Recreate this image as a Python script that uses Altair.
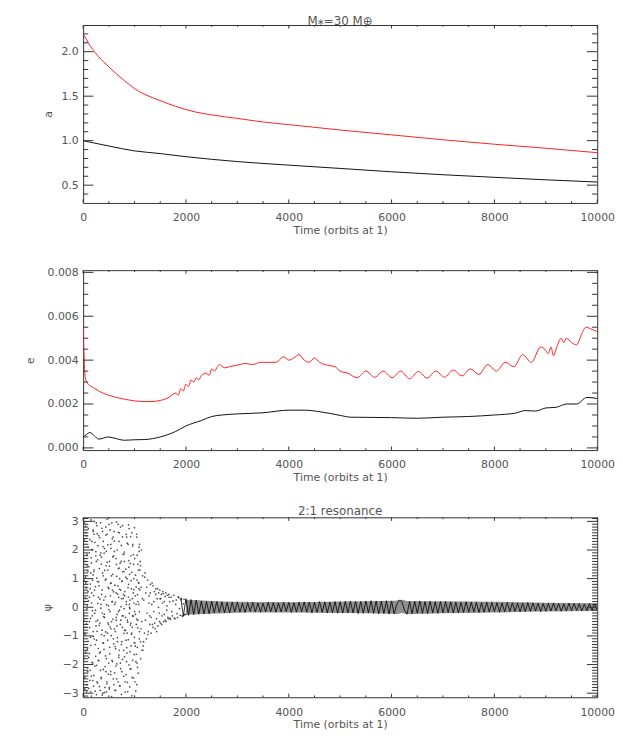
import altair as alt
import pandas as pd

# ---------------- data ----------------
# panel 1: semi-major axis a
a_red_t = [0, 50, 100, 150, 200, 300, 400, 500, 600, 700, 800, 900, 1000, 1200, 1500, 1800,
           2000, 2200, 2500, 3000, 3500, 4000, 5000, 6000, 7000, 8000, 9000, 10000]
a_red = [2.20, 2.15, 2.10, 2.055, 2.015, 1.945, 1.885, 1.83, 1.775, 1.725, 1.675, 1.63, 1.585,
         1.52, 1.45, 1.385, 1.35, 1.32, 1.29, 1.25, 1.21, 1.18, 1.12, 1.065, 1.01, 0.96, 0.915, 0.865]
a_blk_t = [0, 200, 500, 1000, 1500, 2000, 3000, 4000, 5000, 6000, 7000, 8000, 9000, 10000]
a_blk = [1.0, 0.975, 0.94, 0.885, 0.855, 0.82, 0.765, 0.725, 0.688, 0.65, 0.617, 0.588, 0.56, 0.535]

# panel 2: eccentricity e
e_red_t = [0, 20, 50, 100, 200, 300, 400, 500, 700, 900, 1100, 1300, 1500, 1650, 1800, 1850, 1900,
           1950, 2000, 2050, 2100, 2150, 2200, 2250, 2300, 2400, 2450, 2500, 2550, 2650, 2750, 2850,
           2950, 3050, 3150, 3300, 3450, 3600, 3750, 3900, 4000, 4100, 4200, 4300, 4400, 4500,
           4600, 4700, 4800, 4900, 5000, 5150, 5330, 5500, 5670, 5840, 6010, 6180, 6350, 6520,
           6690, 6860, 7030, 7200, 7370, 7530, 7700, 7870, 8040, 8210, 8380, 8550, 8720, 8900,
           8980, 9050, 9100, 9150, 9200, 9300, 9350, 9400, 9500, 9600, 9700, 9780, 9900, 10000]
e_red = [0.0056, 0.0040, 0.0031, 0.0029, 0.00275, 0.0026, 0.00248, 0.0024, 0.00227, 0.00218,
         0.00212, 0.00211, 0.00216, 0.00228, 0.0025, 0.0024, 0.0027, 0.0026, 0.0029, 0.0028,
         0.0031, 0.0030, 0.0032, 0.0031, 0.0033, 0.0034, 0.0033, 0.0036, 0.0035, 0.0038,
         0.00365, 0.0037, 0.00375, 0.0038, 0.00385, 0.0038, 0.0039, 0.0039, 0.0039, 0.00415,
         0.0040, 0.0041, 0.00425, 0.0040, 0.0039, 0.0041, 0.0039, 0.0038, 0.00375, 0.0037,
         0.0035, 0.0034, 0.0032, 0.0035, 0.00322, 0.0035, 0.0032, 0.0035, 0.00315, 0.00348,
         0.00318, 0.0035, 0.00322, 0.00355, 0.00328, 0.0036, 0.00335, 0.0038, 0.0035, 0.0039,
         0.0037, 0.00425, 0.0039, 0.0046, 0.0045, 0.0043, 0.0046, 0.0042, 0.0045, 0.0050,
         0.0048, 0.0050, 0.0048, 0.0047, 0.0052, 0.0055, 0.0054, 0.0053]
e_blk_t = [0, 60, 130, 220, 300, 400, 480, 600, 800, 1000, 1200, 1500, 1800, 2000, 2300, 2500,
           2700, 3000, 3500, 4000, 4300, 4600, 5000, 5200, 6000, 6500, 7000, 7500, 8000, 8400,
           8600, 8800, 9000, 9200, 9400, 9600, 9800, 10000]
e_blk = [0.0005, 0.0006, 0.0007, 0.00055, 0.0004, 0.00045, 0.0005, 0.00045, 0.00035, 0.00037,
         0.00038, 0.0005, 0.00075, 0.001, 0.00125, 0.00143, 0.0015, 0.00155, 0.0016, 0.00172,
         0.00172, 0.00165, 0.00148, 0.0014, 0.00138, 0.00135, 0.0014, 0.00143, 0.0015, 0.00158,
         0.0017, 0.00168, 0.00182, 0.00185, 0.002, 0.002, 0.0023, 0.00225]

# panel 3: resonant angle psi, scattered samples while circulating (t < ~2000)
psi_scat_t = [
    4, 71, 33, 88, 15, 52, 97, 26, 63, 9, 80, 44, 58, 19, 92, 37, 75, 2, 67, 48,
    161, 108, 187, 135, 172, 119, 150, 196, 127, 143, 181, 103, 166, 139, 192, 114, 156, 177, 131, 199,
    233, 279, 208, 261, 244, 295, 217, 270, 251, 226, 288, 203, 239, 265, 212, 283, 248, 229, 274, 256,
    372, 318, 349, 391, 305, 336, 384, 359, 312, 397, 343, 326, 368, 301, 378, 353, 331, 388, 321, 364,
    417, 463, 492, 428, 451, 405, 478, 439, 486, 412, 457, 433, 499, 446, 421, 470, 408, 482, 441, 466,
    553, 509, 587, 536, 571, 518, 597, 545, 526, 580, 503, 562, 592, 531, 549, 514, 576, 541, 566, 522,
    634, 681, 612, 657, 695, 623, 668, 606, 645, 688, 628, 673, 617, 652, 699, 639, 662, 603, 684, 649,
    746, 712, 789, 731, 768, 704, 752, 793, 724, 761, 738, 781, 709, 756, 774, 719, 797, 743, 766, 728,
    818, 862, 835, 891, 806, 847, 879, 823, 866, 898, 842, 811, 873, 855, 829, 886, 802, 858, 839, 883,
    951, 907, 982, 928, 966, 913, 994, 940, 921, 973, 903, 958, 987, 934, 946, 917, 978, 962, 925, 998,
    1024, 1071, 1008, 1049, 1093, 1036, 1062, 1014, 1083, 1042, 1057, 1003, 1077, 1031, 1066, 1019,
    1088, 1053, 1045, 1097,
    27, 11, 45, 6, 38, 20, 49, 31, 14, 42,
    83, 56, 95, 68, 77, 61, 99, 89, 53, 72,
    117, 142, 104, 133, 125, 148, 109, 137, 121, 146,
    158, 183, 171, 196, 162, 188, 152, 177, 165, 193,
    221, 204, 247, 235, 212, 241, 228, 206, 250, 216,
    262, 289, 271, 297, 256, 283, 266, 293, 278, 259,
    314, 337, 303, 326, 348, 319, 341, 308, 331, 345,
    366, 389, 354, 377, 396, 361, 383, 357, 372, 392,
    414, 437, 403, 426, 448, 418, 441, 409, 432, 445,
    463, 486, 452, 475, 497, 468, 491, 456, 480, 494,
    512, 536, 503, 524, 547, 517, 540, 508, 531, 544,
    561, 584, 553, 576, 597, 566, 589, 557, 571, 593,
    613, 637, 604, 626, 648, 618, 641, 607, 631, 644,
    662, 685, 653, 676, 698, 667, 690, 657, 681, 694,
    711, 734, 703, 726, 748, 716, 740, 707, 730, 744,
    762, 785, 753, 776, 798, 767, 790, 757, 781, 794,
    812, 835, 803, 826, 848, 817, 840, 807, 831, 844,
    862, 885, 853, 876, 898, 867, 890, 857, 881, 894,
    911, 934, 903, 926, 948, 916, 940, 907, 930, 944,
    962, 985, 953, 976, 998, 967, 990, 957, 981, 994,
    1012, 1035, 1003, 1026, 1048, 1017, 1040, 1007, 1031, 1044,
    1062, 1085, 1053, 1076, 1098, 1067, 1090, 1057, 1081, 1094,
    1110, 1120, 1135, 1145,
    1105, 1118, 1130, 1142, 1155, 1168, 1180, 1193, 1205, 1218, 1230, 1242,
    1104, 1127, 1151, 1176, 1198, 1213, 1236, 1259, 1281, 1296, 1118, 1163,
    1255, 1268, 1282, 1295, 1308, 1322, 1335, 1348, 1360, 1375, 1388, 1400,
    1306, 1323, 1341, 1359, 1377, 1394, 1412, 1431, 1449, 1466, 1484, 1497,
    1415, 1428, 1440, 1455, 1468, 1480, 1492,
    1505, 1520, 1535, 1550, 1565, 1580, 1595, 1610, 1625, 1640, 1655, 1670, 1685,
    1508, 1527, 1543, 1561, 1578, 1596, 1613, 1632, 1648, 1667, 1683, 1699,
    1712, 1738, 1761, 1788, 1812, 1837, 1862, 1888, 1913, 1938, 1963, 1988,
    1725, 1750, 1775, 1800, 1825, 1850, 1875, 1900, 1925, 1950, 1975, 2000]
psi_scat = [
    -3.02, -2.71, -2.45, -2.12, -1.77, -1.52, -1.19, -0.90, -0.58, -0.27, 0.05, 0.33, 0.68, 0.94, 1.27, 1.60, 1.85, 2.20, 2.49, 2.83,
    -3.10, -2.83, -2.56, -2.20, -1.92, -1.61, -1.33, -1.02, -0.71, -0.39, -0.12, 0.22, 0.50, 0.81, 1.13, 1.42, 1.73, 2.01, 2.36, 2.65,
    -2.93, -2.64, -2.38, -2.03, -1.71, -1.44, -1.11, -0.84, -0.49, -0.20, 0.14, 0.41, 0.72, 1.02, 1.31, 1.66, 1.94, 2.27, 2.57, 2.95,
    -3.06, -2.77, -2.49, -2.17, -1.86, -1.56, -1.24, -0.95, -0.63, -0.33, -0.03, 0.29, 0.60, 0.89, 1.20, 1.51, 1.82, 2.12, 2.43, 2.76,
    -2.98, -2.67, -2.33, -2.07, -1.79, -1.47, -1.15, -0.86, -0.54, -0.24, 0.09, 0.37, 0.65, 0.98, 1.29, 1.57, 1.89, 2.18, 2.52, 3.08,
    -3.12, -2.80, -2.50, -2.24, -1.90, -1.62, -1.28, -0.99, -0.68, -0.41, -0.08, 0.20, 0.54, 0.83, 1.10, 1.44, 1.76, 2.06, 2.39, 2.70,
    -2.90, -2.60, -2.29, -1.98, -1.67, -1.37, -1.06, -0.76, -0.45, -0.15, 0.17, 0.46, 0.77, 1.08, 1.37, 1.70, 2.00, 2.31, 2.62, 2.98,
    -3.04, -2.74, -2.41, -2.14, -1.82, -1.50, -1.20, -0.91, -0.60, -0.30, 0.02, 0.31, 0.63, 0.92, 1.24, 1.54, 1.86, 2.16, 2.46, 2.80,
    -2.96, -2.62, -2.35, -2.01, -1.73, -1.41, -1.13, -0.81, -0.52, -0.21, 0.10, 0.40, 0.69, 1.00, 1.33, 1.63, 1.93, 2.24, 2.55, 2.88,
    -3.09, -2.78, -2.47, -2.16, -1.85, -1.55, -1.23, -0.94, -0.62, -0.31, 0.00, 0.30, 0.62, 0.93, 1.22, 1.53, 1.84, 2.14, 2.47, 2.78,
    -2.92, -2.30, -2.60, -1.95, -1.10, -1.64, -0.72, -1.35, 0.10, -0.41, 0.44, -0.15, 0.86, 0.71, 1.50, 1.12,
    2.10, 1.82, 2.45, 2.20,
    2.95, -0.45, 1.05, -2.30, 0.20, 2.35, -1.60, -2.85, 1.70, -0.95,
    -1.45, 2.60, 0.55, -2.95, 1.45, -0.70, 2.10, -2.25, 0.85, -0.05,
    1.90, -1.05, 2.75, -2.55, 0.35, 1.20, -1.75, 0.65, -0.50, -2.95,
    -2.40, 0.95, 2.30, -0.85, 1.55, -1.95, 3.05, -0.30, 0.15, 2.70,
    0.60, -2.75, 1.80, -1.30, 2.55, -0.10, -2.05, 1.25, -0.65, 3.00,
    -1.15, 2.15, -2.60, 0.35, 1.60, -0.45, 2.85, -1.85, 0.90, -3.05,
    1.35, -2.20, 2.50, -0.55, 0.10, -1.60, 2.95, 0.75, -2.90, 1.90,
    -0.80, 1.10, -2.45, 2.65, -1.25, 0.45, -3.00, 1.75, -0.20, 2.30,
    2.05, -1.70, 0.25, -2.80, 1.45, -0.35, 2.80, -1.00, 0.95, -2.25,
    -2.60, 0.70, 1.95, -0.90, -1.95, 2.55, 0.05, -2.95, 1.30, -0.60,
    1.60, -2.35, 2.90, -0.15, 0.85, -1.40, 2.20, -2.85, 0.40, -0.75,
    -1.85, 2.45, -0.50, 1.15, -2.70, 0.20, -1.10, 2.95, 0.60, 1.80,
    0.10, -2.05, 2.65, -0.85, 1.50, -2.90, 0.50, 1.95, -1.45, -0.35,
    -0.25, 1.35, -2.50, 0.75, 2.30, -1.20, 0.35, -0.65, 2.90, -1.75,
    1.00, -0.45, 2.60, -1.95, 0.30, -2.75, 1.60, -0.10, 0.60, -1.30,
    -0.70, 0.45, -2.25, 1.85, -0.05, 2.85, -1.50, 0.90, -0.30, 1.25,
    0.55, -1.15, 1.60, -0.35, 2.45, -2.60, 0.20, -0.80, 1.05, -1.90,
    -0.45, 0.80, -1.60, 2.20, 0.10, -2.95, 1.40, -0.90, 0.35, 2.75,
    0.25, -1.35, 1.15, -0.55, 2.60, -2.15, 0.65, -0.05, 1.80, -0.90,
    -0.30, 1.00, -2.45, 0.50, -1.05, 2.20, 0.15, -0.70, 1.50, -1.65,
    0.40, -0.60, 1.70, -1.90, 0.95, -0.25, 2.55, -1.25, 0.10, -2.70,
    -0.45, 0.65, -1.40, 1.30, -0.85, 0.20, 1.95, -2.10, 0.85, -0.15,
    1.60, -1.80, 2.00, -1.50,
    1.30, -1.20, 0.70, -0.50, 1.10, -1.35, 0.25, -0.90, 1.20, 0.50, -1.10, -0.20,
    0.60, -0.75, 0.30, -1.20, 1.05, -0.45, 0.70, -0.95, 0.15, -0.60, 1.45, -1.50,
    0.95, -0.85, 0.40, -0.30, 0.80, -0.90, 0.10, -0.60, 0.75, -0.15, 0.55, -0.75,
    0.50, -0.35, 0.85, -0.70, 0.20, -0.55, 0.45, -0.85, 0.65, 0.00, -0.50, 0.30,
    0.65, -0.40, 0.30, -0.65, 0.50, -0.20, 0.60,
    -0.55, 0.45, -0.30, 0.55, -0.50, 0.20, -0.45, 0.50, -0.10, 0.42, -0.40, 0.35, -0.38,
    0.30, -0.60, 0.15, 0.48, -0.25, 0.38, -0.50, 0.05, -0.35, 0.45, 0.20, -0.42,
    0.35, -0.30, 0.42, -0.40, 0.25, -0.36, 0.33, -0.28, 0.30, -0.32, 0.28, -0.25,
    -0.15, 0.22, -0.38, 0.10, -0.22, 0.36, -0.05, 0.27, -0.30, 0.12, -0.26, 0.20]

# panel 3: librating psi, sampled every 50 orbits from t = 1900
psi_band_t = list(range(1900, 10001, 50))
psi_band = [
    0.32, -0.30, 0.30, -0.28, 0.27, -0.26, 0.25,
    -0.24, 0.22, -0.23, 0.20, -0.22, 0.21, -0.19, 0.20, -0.18, 0.19, -0.20, 0.17, -0.19, 0.18, -0.16, 0.18,
    -0.17, 0.15, -0.18, 0.16, -0.14, 0.17, -0.16, 0.15, -0.17, 0.14, -0.16, 0.17, -0.15, 0.16, -0.17, 0.15, -0.16, 0.18, -0.15, 0.17,
    -0.18, 0.16, -0.17, 0.18, -0.16, 0.19, -0.17, 0.18, -0.19, 0.17, -0.18, 0.20, -0.18, 0.19, -0.20, 0.18, -0.19, 0.20, -0.21, 0.19,
    -0.20, 0.21, -0.19, 0.22, -0.20, 0.21, -0.22, 0.20, -0.21, 0.22, -0.20, 0.23, -0.21, 0.22, -0.23, 0.21, -0.22, 0.23, -0.24, 0.22,
    -0.23, 0.10, 0.25, 0.20, -0.10, -0.24, 0.20,
    -0.22, 0.21, -0.20, 0.22, -0.21, 0.20, -0.22, 0.21, -0.20, 0.19, -0.21, 0.20, -0.19,
    0.20, -0.18, 0.19, -0.20, 0.18, -0.19, 0.17, -0.18, 0.19, -0.17, 0.18, -0.16, 0.17, -0.18, 0.16, -0.17, 0.18, -0.16, 0.17, -0.15,
    0.16, -0.17, 0.15, -0.16, 0.17, -0.15, 0.16, -0.14, 0.15, -0.16, 0.14, -0.15, 0.16, -0.14, 0.15, -0.13, 0.14, -0.15, 0.13, -0.14,
    0.14, -0.13, 0.15, -0.12, 0.13, -0.14, 0.12, -0.13, 0.14, -0.12, 0.13, -0.11, 0.12, -0.13, 0.11, -0.12, 0.13, -0.11, 0.12, -0.10]
# envelope of the libration band
env_t = [2000, 2500, 3000, 4000, 5000, 6000, 6100, 6200, 6300, 7000, 8000, 9000, 10000]
env_hi = [0.26, 0.22, 0.19, 0.18, 0.2, 0.23, 0.24, 0.26, 0.22, 0.21, 0.19, 0.16, 0.14]
env_lo = [-0.26, -0.23, -0.19, -0.18, -0.2, -0.23, -0.24, -0.2, -0.24, -0.21, -0.18, -0.15, -0.13]

# axis tick values
x_major = [0, 2000, 4000, 6000, 8000, 10000]
x_minor = [500, 1000, 1500, 2500, 3000, 3500, 4500, 5000, 5500, 6500, 7000, 7500, 8500, 9000, 9500]
a_major = [0.5, 1.0, 1.5, 2.0]
a_minor = [0.4, 0.6, 0.7, 0.8, 0.9, 1.1, 1.2, 1.3, 1.4, 1.6, 1.7, 1.8, 1.9, 2.1, 2.2]
e_major = [0.0, 0.002, 0.004, 0.006, 0.008]
e_minor = [0.0005, 0.001, 0.0015, 0.0025, 0.003, 0.0035, 0.0045, 0.005, 0.0055, 0.0065, 0.007, 0.0075]
p_major = [-3, -2, -1, 0, 1, 2, 3]
p_minor = [round(-3.1 + 0.1 * i, 1) for i in range(63) if abs(round(-3.1 + 0.1 * i, 1) % 1) > 1e-6]

# ---------------- styling ----------------
W = 520
FONT = "DejaVu Sans"
TXT = "#555555"
FRAME = "#333333"
XDOM = [0, 10000]

xscale = alt.Scale(domain=XDOM, nice=False, zero=False)


def xaxis():
    return alt.Axis(values=x_major, format="d", labelFlush=False, title="Time (orbits at 1)",
                    labelPadding=9, titlePadding=2)


def tick_layers(h, yscale, yaxis, ymaj, ymin):
    layers = []
    for vals, ln in ((x_major, h * 0.02), (x_minor, h * 0.01)):
        base = alt.Chart(pd.DataFrame({"v": vals})).mark_rule(color=FRAME, strokeWidth=1)
        layers.append(base.encode(x=alt.X("v:Q", scale=xscale, axis=xaxis()),
                                  y=alt.value(h), y2=alt.value(h - ln)))
        layers.append(base.encode(x=alt.X("v:Q", scale=xscale, axis=xaxis()),
                                  y=alt.value(0), y2=alt.value(ln)))
    for vals, ln in ((ymaj, W * 0.02), (ymin, W * 0.01)):
        base = alt.Chart(pd.DataFrame({"v": vals})).mark_rule(color=FRAME, strokeWidth=1)
        layers.append(base.encode(y=alt.Y("v:Q", scale=yscale, axis=yaxis),
                                  x=alt.value(0), x2=alt.value(ln)))
        layers.append(base.encode(y=alt.Y("v:Q", scale=yscale, axis=yaxis),
                                  x=alt.value(W), x2=alt.value(W - ln)))
    return layers


def line(t, v, color, yscale, yaxis, interp="linear"):
    df = pd.DataFrame({"t": t, "v": v})
    return alt.Chart(df).mark_line(color=color, strokeWidth=1, clip=True, interpolate=interp).encode(
        x=alt.X("t:Q", scale=xscale, axis=xaxis()),
        y=alt.Y("v:Q", scale=yscale, axis=yaxis),
    )


# panel 1
H1 = 180
ys1 = alt.Scale(domain=[0.3, 2.3], nice=False, zero=False)
ax1 = alt.Axis(values=a_major, format=".1f", title="a", labelPadding=5, titlePadding=8)
p1 = alt.layer(
    line(a_red_t, a_red, "#ff2020", ys1, ax1, "monotone"),
    line(a_blk_t, a_blk, "#111111", ys1, ax1, "monotone"),
    *tick_layers(H1, ys1, ax1, a_major, a_minor),
).properties(width=W, height=H1, title=alt.Title("M⁎=30 M⊕", offset=-3))

# panel 2
H2 = 182
ys2 = alt.Scale(domain=[-0.0001, 0.0081], nice=False, zero=False)
ax2 = alt.Axis(values=e_major, format=".3f", title="e", labelPadding=5, titlePadding=12)
p2 = alt.layer(
    line(e_red_t, e_red, "#ff2020", ys2, ax2, "monotone"),
    line(e_blk_t, e_blk, "#111111", ys2, ax2, "monotone"),
    *tick_layers(H2, ys2, ax2, e_major, e_minor),
).properties(width=W, height=H2)

# panel 3
H3 = 182
ys3 = alt.Scale(domain=[-3.1416, 3.1416], nice=False, zero=False)
ax3 = alt.Axis(values=p_major, format="d", title="ψ", labelPadding=5, titlePadding=10)
env = alt.Chart(pd.DataFrame({"t": env_t, "lo": env_lo, "hi": env_hi})).mark_area(
    color="#444444", opacity=0.6, clip=True, interpolate="monotone").encode(
    x=alt.X("t:Q", scale=xscale, axis=xaxis()),
    y=alt.Y("lo:Q", scale=ys3, axis=ax3),
    y2="hi:Q",
)
scat = alt.Chart(pd.DataFrame({"t": psi_scat_t, "v": psi_scat})).mark_circle(
    size=3, color="#333333", opacity=0.85, clip=True).encode(
    x=alt.X("t:Q", scale=xscale, axis=xaxis()),
    y=alt.Y("v:Q", scale=ys3, axis=ax3),
)
band = alt.Chart(pd.DataFrame({"t": psi_band_t, "v": psi_band})).mark_line(
    color="#000000", strokeWidth=0.8, clip=True).encode(
    x=alt.X("t:Q", scale=xscale, axis=xaxis()),
    y=alt.Y("v:Q", scale=ys3, axis=ax3),
)
p3 = alt.layer(env, scat, band, *tick_layers(H3, ys3, ax3, p_major, p_minor)).properties(
    width=W, height=H3, title=alt.Title("2:1 resonance", offset=-3))

chart = alt.vconcat(p1, p2, p3, spacing=68, bounds="flush").properties(
    padding={"top": 2, "left": 16, "right": 0, "bottom": 0}
).configure_view(stroke=FRAME, strokeWidth=1).configure_axis(
    ticks=False, domain=False, grid=False,
    labelFont=FONT, labelFontSize=11, labelColor=TXT,
    titleFont=FONT, titleFontSize=11, titleColor=TXT, titleFontWeight="normal",
).configure_title(font=FONT, fontSize=12, color=TXT, fontWeight="normal")

chart.save("out.html", embed_options={"renderer": "svg", "actions": False})
